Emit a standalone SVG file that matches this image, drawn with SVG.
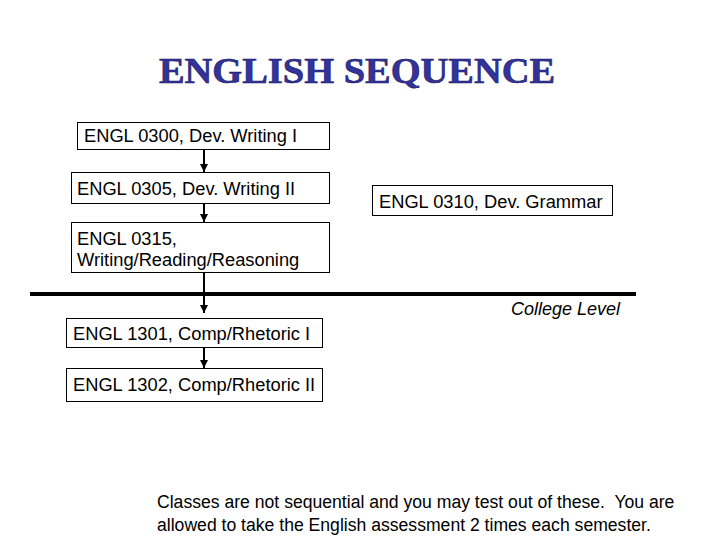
<svg xmlns="http://www.w3.org/2000/svg" width="720" height="540" viewBox="0 0 720 540">
<style>
.box{fill:#fff;stroke:#000;stroke-width:1}
.t{font-family:"Liberation Sans",Arial,sans-serif;font-size:18.3px;fill:#000}
.n{font-family:"Liberation Sans",Arial,sans-serif;font-size:17.6px;fill:#000}
.conn{stroke:#000;stroke-width:2;fill:none}
.title{font-family:"Liberation Serif","Times New Roman",serif;font-weight:bold;font-size:36px;fill:#333399;stroke:#1a1a66;stroke-width:0.6}
</style>
<defs>
<marker id="ah" viewBox="0 0 10 10" refX="10" refY="5" markerWidth="4" markerHeight="4" orient="auto" markerUnits="strokeWidth">
<path d="M0,0 L10,5 L0,10 z" fill="#000"/>
</marker>
</defs>
<rect width="720" height="540" fill="#fff"/>
<text class="title" x="357" y="83" text-anchor="middle" textLength="396" lengthAdjust="spacingAndGlyphs">ENGLISH SEQUENCE</text>
<g id="connectors">
<line class="conn" x1="204" y1="149" x2="204" y2="172" marker-end="url(#ah)"/>
<line class="conn" x1="204" y1="203" x2="204" y2="222" marker-end="url(#ah)"/>
<line class="conn" x1="204" y1="272" x2="204" y2="313" marker-end="url(#ah)"/>
<line class="conn" x1="204" y1="347" x2="204" y2="368" marker-end="url(#ah)"/>
</g>
<g id="divider">
<line x1="30" y1="294" x2="636" y2="294" stroke="#000" stroke-width="4"/>
<text x="620" y="315" text-anchor="end" font-family="Liberation Sans, Arial, sans-serif" font-size="18" font-style="italic">College Level</text>
</g>
<g id="n0300">
<rect class="box" x="77.5" y="122.5" width="252" height="27"/>
<text class="t" x="84" y="142">ENGL 0300, Dev. Writing I</text>
</g>
<g id="n0305">
<rect class="box" x="71.5" y="172.5" width="258" height="31"/>
<text class="t" x="77" y="195">ENGL 0305, Dev. Writing II</text>
</g>
<g id="n0310">
<rect class="box" x="372.5" y="185.5" width="240" height="30"/>
<text class="t" x="379" y="208">ENGL 0310, Dev. Grammar</text>
</g>
<g id="n0315">
<rect class="box" x="71.5" y="222.5" width="258" height="50"/>
<text class="t" x="77" y="245">ENGL 0315,</text>
<text class="t" x="77" y="266">Writing/Reading/Reasoning</text>
</g>
<g id="n1301">
<rect class="box" x="66.5" y="318.5" width="256" height="29"/>
<text class="t" x="73" y="340">ENGL 1301, Comp/Rhetoric I</text>
</g>
<g id="n1302">
<rect class="box" x="66.5" y="368.5" width="256" height="33"/>
<text class="t" x="73" y="391">ENGL 1302, Comp/Rhetoric II</text>
</g>
<g id="note">
<text class="n" x="157" y="508" xml:space="preserve">Classes are not sequential and you may test out of these.  You are</text>
<text class="n" x="157" y="531">allowed to take the English assessment 2 times each semester.</text>
</g>
</svg>
